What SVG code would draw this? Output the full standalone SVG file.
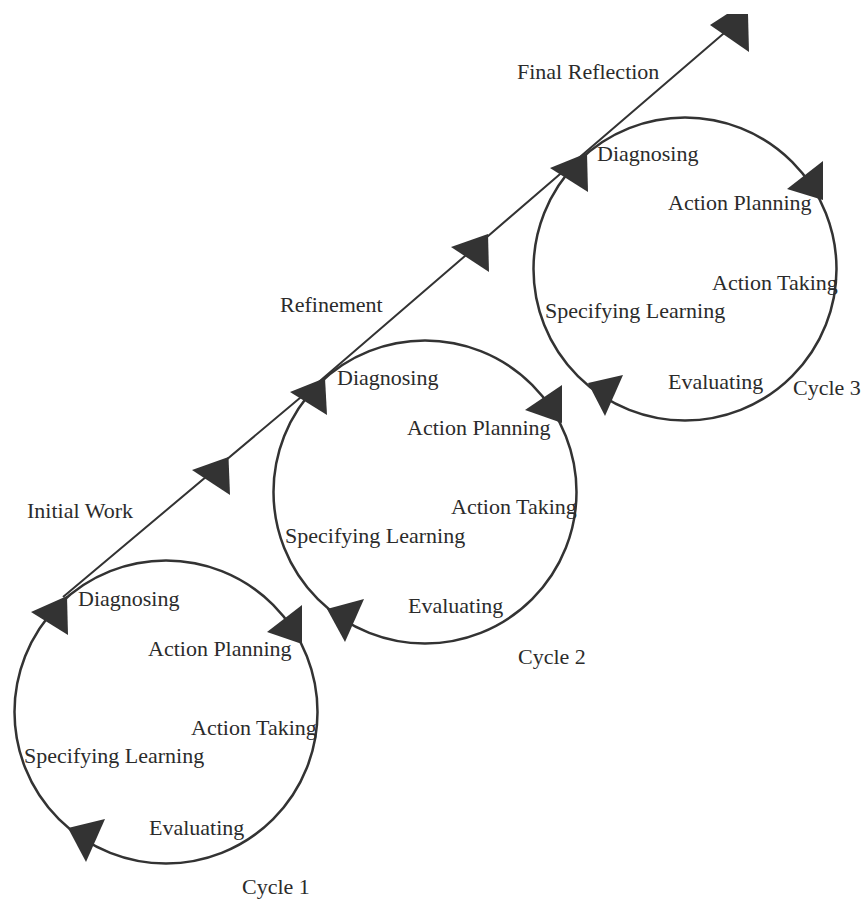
<svg xmlns="http://www.w3.org/2000/svg" width="862" height="900" viewBox="0 0 862 900" font-family="Liberation Serif, Times New Roman, serif">
  <style>
    .ring { fill: none; stroke: #333; stroke-width: 2.5; }
    .path { fill: none; stroke: #333; stroke-width: 2; stroke-linejoin: round; }
    .head { fill: #333; stroke: none; }
    .lbl { font-size: 22px; fill: #2b2b2b; }
  </style>
  <rect width="862" height="900" fill="#ffffff"/>

  <!-- trajectory through the three cycles -->
  <g id="connectors">
    <polyline class="path" points="63,597 310,389.5 570,165.5 730,28"/>
    <polygon class="head" points="192,470 228.5,457 230,495"/>
    <polygon class="head" points="451,247 488,234 489,272"/>
    <polygon class="head" points="710,25 727,14 748,14 749,52"/>
    <text class="lbl" x="27" y="518">Initial Work</text>
    <text class="lbl" x="280" y="312">Refinement</text>
    <text class="lbl" x="517" y="79">Final Reflection</text>
  </g>

  <g id="cycle1">
    <circle class="ring" cx="166" cy="712" r="151.5"/>
    <polygon class="head" points="31,612 67,596 68,635"/>
    <polygon class="head" points="267,632 302,605 302,644"/>
    <polygon class="head" points="68,828 105,819 86,862"/>
    <text class="lbl" x="78" y="606">Diagnosing</text>
    <text class="lbl" x="148" y="656">Action Planning</text>
    <text class="lbl" x="191" y="735">Action Taking</text>
    <text class="lbl" x="24" y="763">Specifying Learning</text>
    <text class="lbl" x="149" y="835">Evaluating</text>
    <text class="lbl" x="242" y="894">Cycle 1</text>
  </g>

  <g id="cycle2">
    <circle class="ring" cx="425" cy="492" r="151.5"/>
    <polygon class="head" points="290,392 325,378 327,415"/>
    <polygon class="head" points="525,410 562,385 562,423"/>
    <polygon class="head" points="327,609 364,599 345,642"/>
    <text class="lbl" x="337" y="385">Diagnosing</text>
    <text class="lbl" x="407" y="435">Action Planning</text>
    <text class="lbl" x="451" y="514">Action Taking</text>
    <text class="lbl" x="285" y="543">Specifying Learning</text>
    <text class="lbl" x="408" y="613">Evaluating</text>
    <text class="lbl" x="518" y="664">Cycle 2</text>
  </g>

  <g id="cycle3">
    <circle class="ring" cx="685" cy="269" r="151.5"/>
    <polygon class="head" points="550,168 587,153 588,192"/>
    <polygon class="head" points="787,189 823,161 823,200"/>
    <polygon class="head" points="588,383 623,375 605,416"/>
    <text class="lbl" x="597" y="161">Diagnosing</text>
    <text class="lbl" x="668" y="210">Action Planning</text>
    <text class="lbl" x="712" y="290">Action Taking</text>
    <text class="lbl" x="545" y="318">Specifying Learning</text>
    <text class="lbl" x="668" y="389">Evaluating</text>
    <text class="lbl" x="793" y="395">Cycle 3</text>
  </g>
</svg>
